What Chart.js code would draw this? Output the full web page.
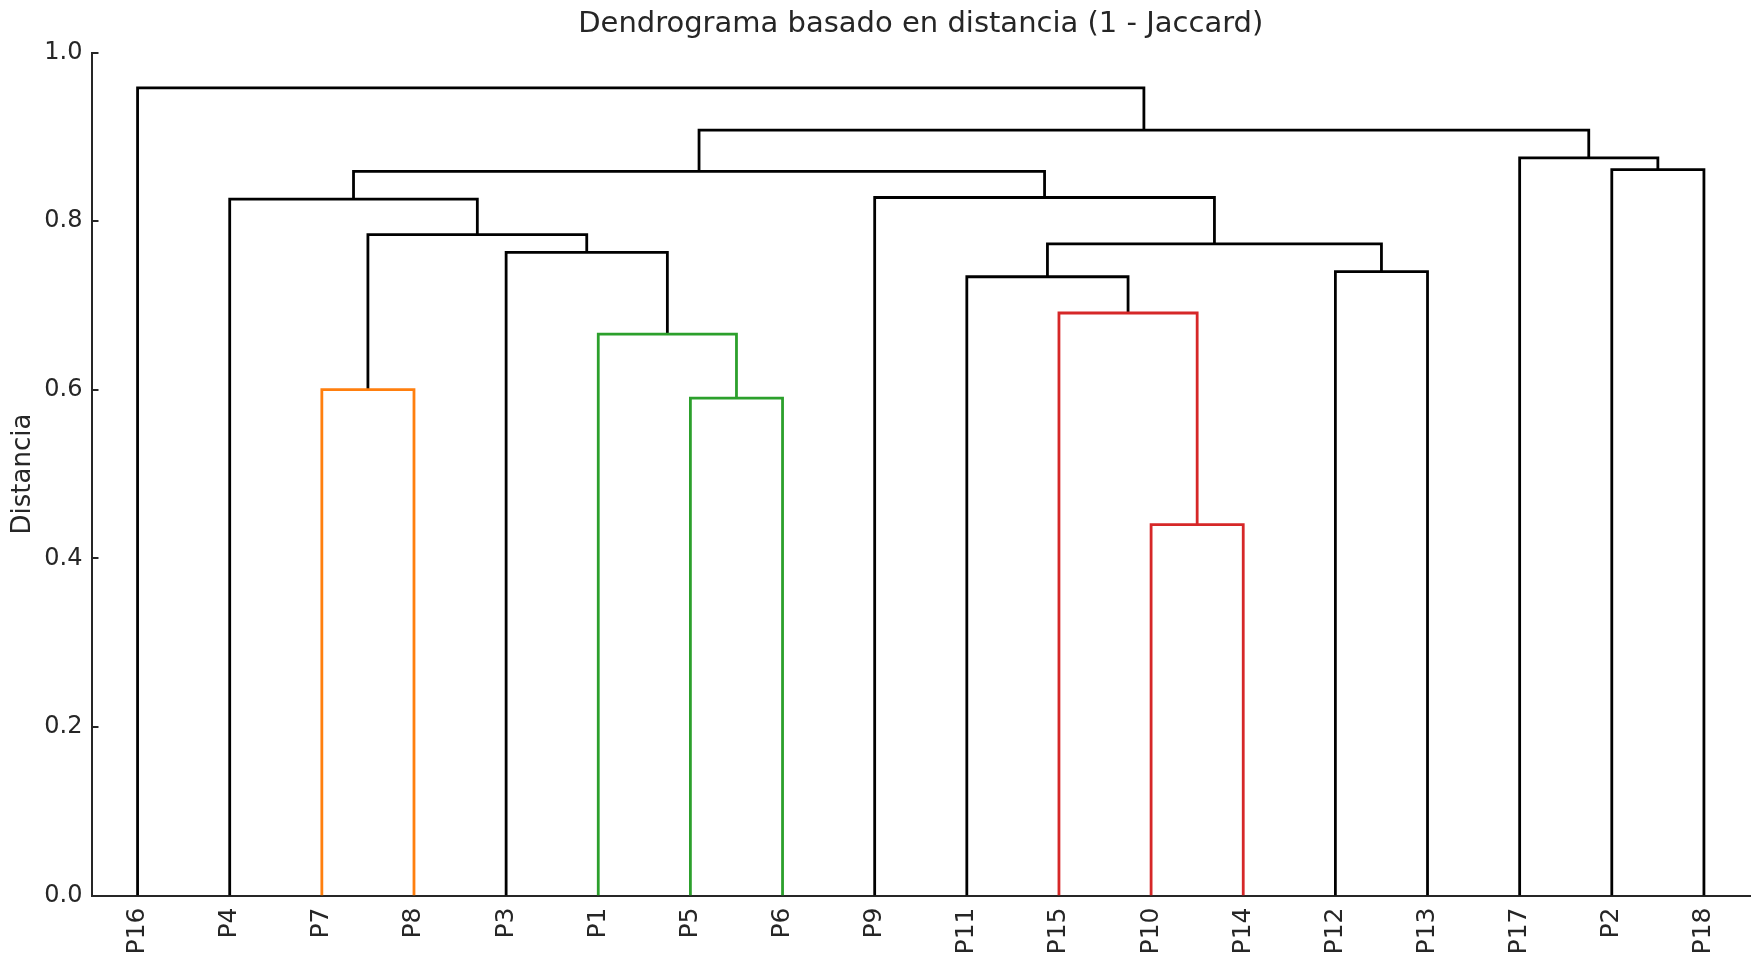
<!DOCTYPE html>
<html>
<head>
<meta charset="utf-8">
<title>Dendrograma</title>
<script src="https://cdn.jsdelivr.net/npm/chart.js@4.4.1/dist/chart.umd.min.js"></script>
<style>
  html, body { margin: 0; padding: 0; background: #fff; }
  canvas { display: block; }
</style>
</head>
<body>
<canvas id="dendro" width="1753" height="962"></canvas>
<script>
// leaf order along the x axis
const leaves = ['P16', 'P4', 'P7', 'P8', 'P3', 'P1', 'P5', 'P6', 'P9', 'P11', 'P15', 'P10', 'P14', 'P12', 'P13', 'P17', 'P2', 'P18'];

// merges: left child, right child (leaf name or 'c' + merge index), height
const mergeLeft   = ['P10', 'P5', 'P7', 'P1', 'P15', 'P11', 'P12', 'P3', 'c5', 'c2', 'P4', 'P9', 'c10', 'P2', 'P17', 'c12', 'P16'];
const mergeRight  = ['P14', 'P6', 'P8', 'c1', 'c0', 'c4', 'P13', 'c3', 'c6', 'c7', 'c9', 'c8', 'c11', 'P18', 'c13', 'c14', 'c15'];
const mergeHeight = [0.440, 0.590, 0.600, 0.666, 0.691, 0.734, 0.740, 0.763, 0.773, 0.784, 0.826, 0.828, 0.859, 0.861, 0.875, 0.908, 0.958];
const mergeColor  = ['#d62728', '#2ca02c', '#ff7f0e', '#2ca02c', '#d62728', '#000', '#000', '#000', '#000', '#000', '#000', '#000', '#000', '#000', '#000', '#000', '#000'];

const yTicks = [0, 0.2, 0.4, 0.6, 0.8, 1.0];

// position of a node: leaves sit at 5, 15, 25 ... like scipy
const pos = {};
leaves.forEach((name, i) => { pos[name] = { x: 5 + 10 * i, y: 0 }; });

const datasets = [];
for (let i = 0; i < mergeHeight.length; i++) {
    const a = pos[mergeLeft[i]];
    const b = pos[mergeRight[i]];
    const h = mergeHeight[i];
    datasets.push({
        data: [{ x: a.x, y: a.y }, { x: a.x, y: h }, { x: b.x, y: h }, { x: b.x, y: b.y }],
        borderColor: mergeColor[i],
        borderWidth: 2.8,
        showLine: true,
        pointRadius: 0,
        tension: 0
    });
    pos['c' + i] = { x: (a.x + b.x) / 2, y: h };
}

// small inward ticks on the y axis, like the original
const innerTicks = {
    id: 'innerTicks',
    afterDraw(chart) {
        const { ctx, chartArea, scales } = chart;
        ctx.save();
        ctx.strokeStyle = '#262626';
        ctx.lineWidth = 2;
        yTicks.forEach(v => {
            const y = Math.round(scales.y.getPixelForValue(v));
            ctx.beginPath();
            ctx.moveTo(chartArea.left, y);
            ctx.lineTo(chartArea.left + 7, y);
            ctx.stroke();
        });
        ctx.restore();
    }
};

Chart.defaults.font.family = 'DejaVu Sans';
Chart.defaults.color = '#262626';

new Chart(document.getElementById('dendro'), {
    type: 'scatter',
    data: { datasets: datasets },
    options: {
        responsive: false,
        animation: false,
        devicePixelRatio: 1,
        layout: { padding: { left: 0, right: 3, top: 0, bottom: 0 } },
        plugins: {
            legend: { display: false },
            tooltip: { enabled: false },
            title: {
                display: true,
                fullSize: false,
                text: 'Dendrograma basado en distancia (1 - Jaccard)',
                font: { size: 29, weight: 'normal' },
                color: '#262626',
                padding: { top: 7.5, bottom: 10.2 }
            }
        },
        scales: {
            x: {
                type: 'linear',
                min: 0,
                max: 180,
                afterBuildTicks: scale => {
                    scale.ticks = leaves.map((_, i) => ({ value: 5 + 10 * i }));
                },
                afterFit: scale => { scale.height = 66.5; },
                ticks: {
                    autoSkip: false,
                    minRotation: 90,
                    maxRotation: 90,
                    padding: 12,
                    font: { size: 25 },
                    color: '#262626',
                    callback: v => leaves[Math.round((v - 5) / 10)]
                },
                grid: { display: false, drawTicks: false },
                border: { display: true, color: '#262626', width: 2 }
            },
            y: {
                min: 0,
                max: 1,
                afterBuildTicks: scale => {
                    scale.ticks = yTicks.map(v => ({ value: v }));
                },
                afterFit: scale => { scale.width = 91.5; },
                ticks: {
                    padding: 9,
                    font: { size: 24 },
                    color: '#262626',
                    callback: v => v.toFixed(1)
                },
                title: {
                    display: true,
                    text: 'Distancia',
                    font: { size: 26 },
                    color: '#262626',
                    padding: { top: 7.4, bottom: 0 }
                },
                grid: { display: false, drawTicks: false },
                border: { display: true, color: '#262626', width: 2 }
            }
        }
    },
    plugins: [innerTicks]
});
</script>
</body>
</html>
